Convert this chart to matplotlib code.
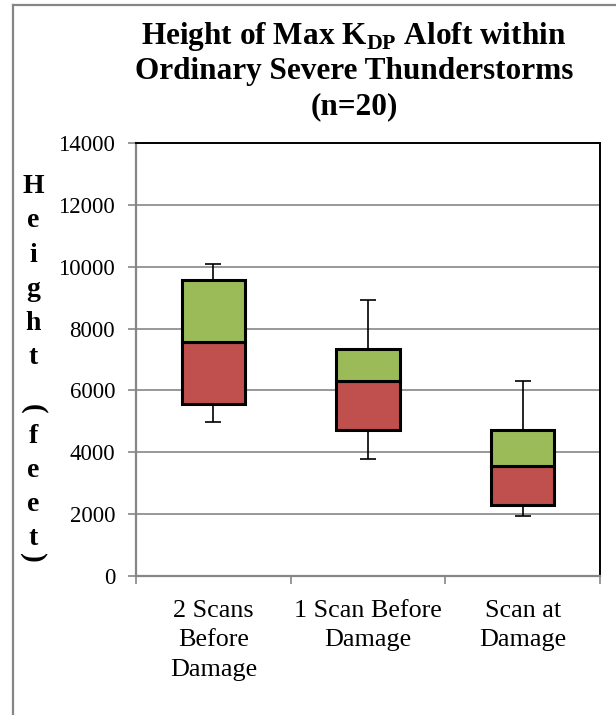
import numpy as np
import matplotlib
matplotlib.use('Agg')
import matplotlib.pyplot as plt
from matplotlib.lines import Line2D

plt.rcParams['font.family'] = 'serif'
plt.rcParams['font.serif'] = ['Liberation Serif', 'DejaVu Serif']
plt.rcParams['mathtext.fontset'] = 'custom'
plt.rcParams['mathtext.rm'] = 'Liberation Serif'
plt.rcParams['mathtext.bf'] = 'Liberation Serif:bold'

# data
categories = ['2 Scans\nBefore\nDamage', '1 Scan Before\nDamage', 'Scan at\nDamage']
whisker_low = [4970, 3780, 1950]
q1 = [5560, 4710, 2300]
median = [7560, 6320, 3560]
q3 = [9560, 7350, 4710]
whisker_high = [10100, 8920, 6300]
yticks = [0, 2000, 4000, 6000, 8000, 10000, 12000, 14000]

red = '#C0504D'
green = '#9BBB59'
grid_gray = '#868686'

W, H = 616, 715
fig = plt.figure(figsize=(W / 100, H / 100), dpi=100)
ax = fig.add_axes([136 / W, 1 - 576 / H, (600 - 136) / W, (576 - 143) / H])

x = np.arange(len(categories))
low = np.array(median) - np.array(whisker_low)
high = np.array(whisker_high) - np.array(median)
ax.errorbar(x, median, yerr=[low, high], fmt='none', ecolor='black',
            elinewidth=1.2, capsize=6, capthick=1.2, zorder=2)

ax.bar(x, np.array(median) - np.array(q1), bottom=q1, width=0.41,
       color=red, edgecolor='black', linewidth=2.2, zorder=3)
ax.bar(x, np.array(q3) - np.array(median), bottom=median, width=0.41,
       color=green, edgecolor='black', linewidth=2.2, zorder=3)

ax.set_xlim(-0.5, 2.5)
ax.set_ylim(0, 14000)
ax.set_yticks(yticks)
ax.set_yticklabels([str(v) for v in yticks], fontsize=16.5)
ax.yaxis.grid(True, color=grid_gray, linewidth=1.2, zorder=0)
ax.set_axisbelow(True)

ax.set_xticks(x)
ax.set_xticklabels(categories, fontsize=18.8, linespacing=1.42)
ax.set_xticks([-0.5, 0.5, 1.5, 2.5], minor=True)
ax.tick_params(axis='x', which='major', length=0, pad=17.5)
ax.tick_params(axis='x', which='minor', length=6, width=1.2, color=grid_gray, direction='out')
ax.tick_params(axis='y', length=6, width=1.2, color=grid_gray, direction='out', pad=9)

ax.spines['left'].set_color(grid_gray)
ax.spines['bottom'].set_color(grid_gray)
ax.spines['left'].set_linewidth(1.6)
ax.spines['bottom'].set_linewidth(1.6)
ax.spines['top'].set_color('black')
ax.spines['right'].set_color('black')
ax.spines['top'].set_linewidth(1.4)
ax.spines['right'].set_linewidth(1.4)

# title, one line at a time
title_lines = [r'Height of Max K$_{\mathbf{DP}}$ Aloft within',
               'Ordinary Severe Thunderstorms', '(n=20)']
for line, yb in zip(title_lines, [44, 79, 114]):
    fig.text(354 / W, 1 - yb / H, line, ha='center', va='baseline',
             fontsize=22.5, fontweight='bold')

# stacked y label, parentheses turned on their side
label_chars = ['H', 'e', 'i', 'g', 'h', 't', '(', 'f', 'e', 'e', 't', ')']
label_y = [193, 227, 262, 296, 330, 364, 409, 443, 477, 511, 545, 558]
for ch, yb in zip(label_chars, label_y):
    if ch in '()':
        fig.text(33 / W, 1 - yb / H, ch, ha='center', va='center',
                 fontsize=21, fontweight='bold', rotation=-90,
                 rotation_mode='anchor')
    else:
        fig.text(33 / W, 1 - yb / H, ch, ha='center', va='baseline',
                 fontsize=20, fontweight='bold')

# chart area border
fig.add_artist(Line2D([13 / W, 13 / W], [0, 1 - 5 / H], color=grid_gray, lw=1.6))
fig.add_artist(Line2D([13 / W, 1], [1 - 5 / H, 1 - 5 / H], color=grid_gray, lw=1.6))

fig.savefig('out.png', dpi=100)
